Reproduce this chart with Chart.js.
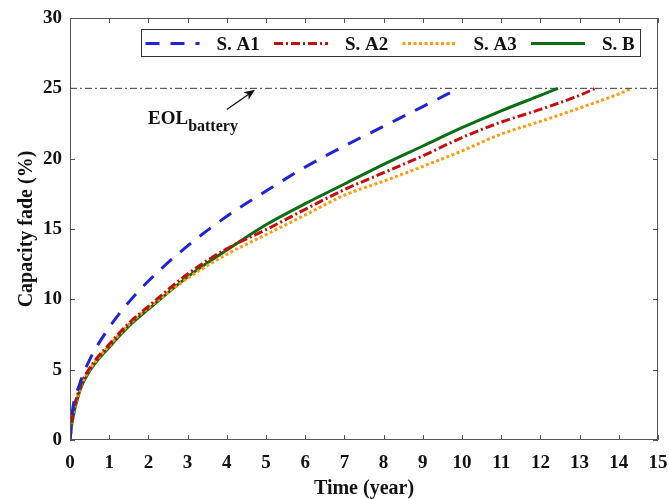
<!DOCTYPE html>
<html>
<head>
<meta charset="utf-8">
<script src="https://cdn.jsdelivr.net/npm/chart.js@4.4.1/dist/chart.umd.min.js"></script>
<style>
  html, body { margin: 0; padding: 0; background: #fff; }
</style>
</head>
<body>
<canvas id="chart" width="669" height="499"></canvas>
<script>
// capacity fade (%) over time (year) for each scenario, read point by point
const yearsA1 = [0, 0.05, 0.25, 0.5, 1, 1.5, 2, 3, 4, 5, 6, 7, 8, 9, 9.92]
const fadeA1  = [0, 1.8, 4.0, 5.7, 8.0, 9.8, 11.3, 13.8, 15.9, 17.7, 19.4, 20.9, 22.3, 23.7, 25]

const yearsA2 = [0, 0.05, 0.25, 0.5, 1, 1.5, 2, 3, 4, 5, 6, 7, 8, 9, 10, 11, 12, 13, 13.4]
const fadeA2  = [0, 1.4, 3.7, 5.1, 6.8, 8.3, 9.5, 11.8, 13.6, 14.95, 16.4, 17.8, 19.0, 20.2, 21.5, 22.6, 23.5, 24.5, 25]

const yearsA3 = [0, 0.05, 0.25, 0.5, 1, 1.5, 2, 3, 4, 5, 6, 7, 8, 9, 10, 11, 12, 13, 14, 14.33]
const fadeA3  = [0, 1.3, 3.6, 5.0, 6.7, 8.2, 9.4, 11.5, 13.2, 14.6, 16.0, 17.4, 18.4, 19.45, 20.55, 21.75, 22.65, 23.6, 24.6, 25]

const yearsB = [0, 0.05, 0.25, 0.5, 1, 1.5, 2, 3, 4, 5, 6, 7, 8, 9, 10, 11, 12, 12.45]
const fadeB  = [0, 1.2, 3.5, 4.9, 6.6, 8.1, 9.3, 11.6, 13.5, 15.3, 16.8, 18.2, 19.6, 20.9, 22.2, 23.4, 24.5, 25]

// end-of-life threshold
const eolYears = [0, 15]
const eolFade  = [25, 25]

const xTickValues = [0, 1, 2, 3, 4, 5, 6, 7, 8, 9, 10, 11, 12, 13, 14, 15]
const yTickValues = [0, 5, 10, 15, 20, 25, 30]

const FONT = "'Liberation Serif', 'Times New Roman', serif"

const toPoints = (xs, ys) => xs.map((x, i) => ({ x, y: ys[i] }))

// box around the plot with inward ticks on all four sides
const framePlugin = {
  id: 'frame',
  afterDatasetsDraw(chart) {
    const { ctx, chartArea: a, scales: { x, y } } = chart
    ctx.save()
    ctx.strokeStyle = '#555'
    ctx.lineWidth = 1
    ctx.setLineDash([])
    ctx.beginPath()
    ctx.rect(a.left + 0.5, a.top + 0.5, a.right - a.left - 1, a.bottom - a.top - 1)
    xTickValues.forEach(v => {
      const px = Math.round(x.getPixelForValue(v)) + 0.5
      ctx.moveTo(px, a.bottom); ctx.lineTo(px, a.bottom - 5)
      ctx.moveTo(px, a.top); ctx.lineTo(px, a.top + 5)
    })
    yTickValues.forEach(v => {
      const py = Math.round(y.getPixelForValue(v)) + 0.5
      ctx.moveTo(a.left, py); ctx.lineTo(a.left + 5, py)
      ctx.moveTo(a.right, py); ctx.lineTo(a.right - 5, py)
    })
    ctx.stroke()

    // EOL label with subscript and arrow pointing at the threshold line
    const tx = x.getPixelForValue(1.99)
    const ty = y.getPixelForValue(22.5)
    ctx.fillStyle = '#111'
    ctx.textBaseline = 'alphabetic'
    ctx.font = `bold 19px ${FONT}`
    ctx.fillText('EOL', tx, ty)
    const w = ctx.measureText('EOL').width
    ctx.font = `bold 16px ${FONT}`
    ctx.fillText('battery', tx + w, ty + 7)

    const x0 = x.getPixelForValue(4.0), y0 = y.getPixelForValue(23.5)
    const x1 = x.getPixelForValue(4.72), y1 = y.getPixelForValue(24.9)
    const ang = Math.atan2(y1 - y0, x1 - x0)
    ctx.strokeStyle = '#111'
    ctx.lineWidth = 1.3
    ctx.beginPath()
    ctx.moveTo(x0, y0)
    ctx.lineTo(x1 - 6 * Math.cos(ang), y1 - 6 * Math.sin(ang))
    ctx.stroke()
    ctx.beginPath()
    ctx.moveTo(x1, y1)
    ctx.lineTo(x1 - 11 * Math.cos(ang) + 4.5 * Math.sin(ang), y1 - 11 * Math.sin(ang) - 4.5 * Math.cos(ang))
    ctx.lineTo(x1 - 8 * Math.cos(ang), y1 - 8 * Math.sin(ang))
    ctx.lineTo(x1 - 11 * Math.cos(ang) - 4.5 * Math.sin(ang), y1 - 11 * Math.sin(ang) + 4.5 * Math.cos(ang))
    ctx.closePath()
    ctx.fill()
    ctx.restore()
  }
}

// single-row legend boxed inside the plot
const boxLegend = {
  id: 'boxLegend',
  afterDraw(chart) {
    const { ctx, chartArea: a } = chart
    const left = a.left + 71.5, top = a.top + 11.5, width = 499, height = 27
    ctx.save()
    ctx.fillStyle = '#fff'
    ctx.fillRect(left, top, width, height)
    ctx.strokeStyle = '#333'
    ctx.lineWidth = 1
    ctx.setLineDash([])
    ctx.strokeRect(left, top, width, height)
    const midY = top + 14
    let slot = 0
    chart.data.datasets.forEach(ds => {
      if (ds.skipLegend) return
      const lx = left + 4 + slot * 128.5
      ctx.strokeStyle = ds.borderColor
      ctx.lineWidth = ds.borderWidth
      ctx.setLineDash(ds.borderDash || [])
      ctx.beginPath()
      ctx.moveTo(lx, midY)
      ctx.lineTo(lx + 54, midY)
      ctx.stroke()
      ctx.setLineDash([])
      ctx.fillStyle = '#111'
      ctx.font = `bold 19px ${FONT}`
      ctx.textBaseline = 'middle'
      ctx.fillText(ds.label, lx + 71, midY + 2)
      slot++
    })
    ctx.restore()
  }
}

new Chart(document.getElementById('chart'), {
  type: 'line',
  data: {
    datasets: [
      {
        label: 'EOL',
        skipLegend: true,
        data: toPoints(eolYears, eolFade),
        borderColor: '#3a3a3a',
        borderWidth: 1,
        borderDash: [7, 3, 2, 3],
        pointRadius: 0
      },
      {
        label: 'S. A1',
        data: toPoints(yearsA1, fadeA1),
        borderColor: '#1f24d6',
        borderWidth: 3,
        borderDash: [14, 11],
        pointRadius: 0,
        cubicInterpolationMode: 'monotone'
      },
      {
        label: 'S. A2',
        data: toPoints(yearsA2, fadeA2),
        borderColor: '#c40d0d',
        borderWidth: 3,
        borderDash: [9, 3, 2, 3],
        pointRadius: 0,
        cubicInterpolationMode: 'monotone'
      },
      {
        label: 'S. A3',
        data: toPoints(yearsA3, fadeA3),
        borderColor: '#ff9a0f',
        borderWidth: 3,
        borderDash: [3, 2.5],
        pointRadius: 0,
        cubicInterpolationMode: 'monotone'
      },
      {
        label: 'S. B',
        data: toPoints(yearsB, fadeB),
        borderColor: '#0c6e12',
        borderWidth: 3,
        pointRadius: 0,
        cubicInterpolationMode: 'monotone'
      }
    ]
  },
  options: {
    responsive: false,
    animation: false,
    layout: { padding: { left: 0, right: 11, top: 18, bottom: 0 } },
    plugins: {
      legend: { display: false },
      tooltip: { enabled: false }
    },
    scales: {
      x: {
        type: 'linear',
        min: 0,
        max: 15,
        afterBuildTicks: s => { s.ticks = xTickValues.map(value => ({ value })) },
        afterFit: s => { s.height = 59; s.paddingLeft = 0; s.paddingRight = 0 },
        grid: { display: false, drawTicks: false },
        border: { display: false },
        ticks: {
          padding: 12,
          color: '#111',
          font: { family: FONT, weight: 'bold', size: 19 }
        },
        title: {
          display: true,
          text: 'Time (year)',
          color: '#111',
          padding: { top: 0, bottom: 0 },
          font: { family: FONT, weight: 'bold', size: 20, lineHeight: 1 }
        }
      },
      y: {
        type: 'linear',
        min: 0,
        max: 30,
        afterBuildTicks: s => { s.ticks = yTickValues.map(value => ({ value })) },
        afterFit: s => { s.width = 70; s.paddingTop = 0; s.paddingBottom = 0 },
        grid: { display: false, drawTicks: false },
        border: { display: false },
        ticks: {
          padding: 8,
          color: '#111',
          font: { family: FONT, weight: 'bold', size: 19 }
        },
        title: {
          display: true,
          text: 'Capacity fade (%)',
          color: '#111',
          padding: { top: 15, bottom: 0 },
          font: { family: FONT, weight: 'bold', size: 20, lineHeight: 1.2 }
        }
      }
    }
  },
  plugins: [framePlugin, boxLegend]
})
</script>
</body>
</html>
